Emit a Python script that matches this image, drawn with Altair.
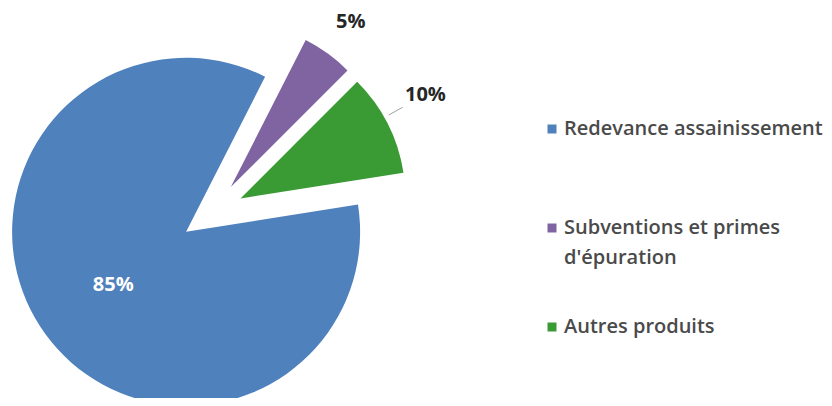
import altair as alt
import pandas as pd

categories = ["Redevance assainissement", "Subventions et primes d'épuration", "Autres produits"]
values = [85, 5, 10]
labels = ["85%", "5%", "10%"]
colors = ["#4F81BD", "#8064A2", "#3A9A34"]

df = pd.DataFrame({"cat": categories, "value": values, "label": labels,
                   "order": list(range(len(categories)))})

START = 1.4137   # first slice starts at ~81 degrees (clockwise from 12 o'clock)
CX, CY = 204, 205
FIRST, SECOND, THIRD = categories

base = (
    alt.Chart(df)
    .transform_window(cum="sum(value)", sort=[alt.SortField("order")])
    .transform_joinaggregate(total="sum(value)")
    .transform_calculate(
        a0=f"{START} + 2*PI*(datum.cum - datum.value)/datum.total",
        a1=f"{START} + 2*PI*datum.cum/datum.total",
    )
    .transform_calculate(mid="(datum.a0 + datum.a1)/2")
    .transform_calculate(
        r=f"datum.cat == \"{FIRST}\" ? 174 : 165",
        ld=f"datum.cat == \"{FIRST}\" ? 122 : (datum.cat == \"{THIRD}\" ? 244 : 236)",
        la=f"datum.cat == \"{THIRD}\" ? datum.mid - 0.035 : datum.mid",
    )
    .transform_calculate(
        px=f"{CX} + 32*sin(datum.mid)",
        py=f"{CY} - 32*cos(datum.mid)",
        lx=f"{CX} + datum.ld*sin(datum.la)",
        ly=f"{CY} - datum.ld*cos(datum.la)",
        rx1=f"{CX} + 202*sin(datum.la)",
        ry1=f"{CY} - 202*cos(datum.la)",
        rx2=f"{CX} + 218*sin(datum.la)",
        ry2=f"{CY} - 218*cos(datum.la)",
    )
)

arcs = base.mark_arc(stroke=None).encode(
    x=alt.X("px:Q", scale=None),
    y=alt.Y("py:Q", scale=None),
    theta=alt.Theta("a0:Q", scale=None),
    theta2="a1:Q",
    radius=alt.Radius("r:Q", scale=None),
    color=alt.Color(
        "cat:N",
        scale=alt.Scale(domain=categories, range=colors),
        sort=categories,
        legend=alt.Legend(
            title=None,
            orient="none",
            legendX=534,
            legendY=111,
            symbolType="square",
            symbolSize=81,
            symbolStrokeWidth=0,
            labelFont="Open Sans",
            labelFontSize=20,
            labelFontWeight=600,
            labelColor="#4A4A4A",
            labelLimit=400,
            labelOffset=2,
            rowPadding=49,
            gridAlign="all",
            padding=0,
            labelExpr="datum.label == \"Subventions et primes d'épuration\" ? ['Subventions et primes', \"d'épuration\"] : datum.label",
        ),
    ),
)

texts = base.mark_text(font="Open Sans", fontWeight="bold", fontSize=20).encode(
    x=alt.X("lx:Q", scale=None),
    y=alt.Y("ly:Q", scale=None),
    text="label:N",
    color=alt.condition(alt.datum.cat == FIRST, alt.value("white"), alt.value("#262626")),
)

leader = base.transform_filter(alt.datum.cat == THIRD).mark_rule(
    color="#A0A0A0", strokeWidth=1
).encode(
    x=alt.X("rx1:Q", scale=None),
    y=alt.Y("ry1:Q", scale=None),
    x2="rx2:Q",
    y2="ry2:Q",
)

chart = (
    alt.layer(arcs, leader, texts)
    .properties(width=816, height=390, padding=0, autosize="none")
    .configure(style={"guide-label": {"lineHeight": 30}})
    .configure_view(stroke=None)
)

chart.save("out.html", embed_options={"renderer": "svg", "actions": False})
